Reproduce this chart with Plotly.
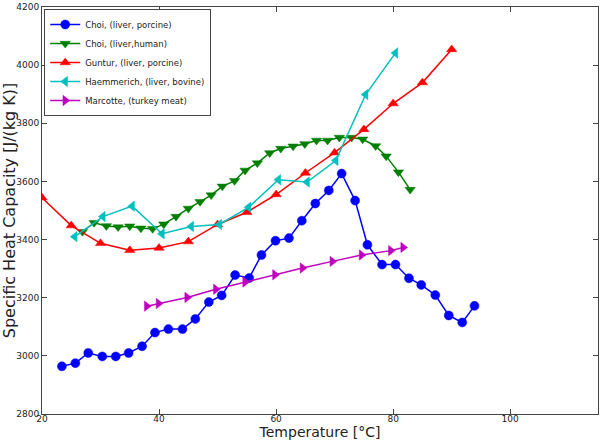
import plotly.graph_objects as go

# Choi (liver, porcine)
choi_p_t = [23.4, 25.7, 27.9, 30.3, 32.6, 34.8, 37.1, 39.3, 41.6, 44.0, 46.2, 48.5, 50.7, 53.0,
            55.4, 57.5, 59.9, 62.2, 64.4, 66.7, 69.0, 71.2, 73.5, 75.6, 78.1, 80.4, 82.7, 84.8,
            87.2, 89.5, 91.8, 93.9]
choi_p_c = [2964, 2975, 3010, 2998, 2998, 3010, 3033, 3080, 3092, 3092, 3127, 3185, 3208, 3278,
            3268, 3347, 3396, 3405, 3465, 3524, 3569, 3627, 3534, 3382, 3314, 3314, 3267, 3244,
            3209, 3139, 3115, 3172]

# Choi (liver, human)
choi_h_t = [26.9, 28.9, 31.0, 33.0, 35.0, 36.9, 38.9, 40.8, 42.9, 45.0, 47.0, 48.9, 50.8, 52.9,
            54.7, 56.8, 58.9, 60.8, 62.9, 64.9, 66.9, 68.8, 70.8, 72.9, 74.8, 77.0, 78.8, 80.9, 82.9]
choi_h_c = [3427, 3458, 3447, 3443, 3446, 3439, 3437, 3453, 3479, 3507, 3530, 3553, 3583, 3602,
            3638, 3663, 3698, 3713, 3721, 3729, 3741, 3741, 3751, 3751, 3745, 3722, 3687, 3632, 3572]

# Guntur (liver, porcine)
guntur_t = [20, 25, 30, 35, 40, 45, 50, 55, 60, 65, 70, 75, 80, 85, 90]
guntur_c = [3544, 3448, 3387, 3363, 3371, 3393, 3452, 3494, 3555, 3629, 3699, 3779, 3868, 3940, 4054]

# Haemmerich (liver, bovine)
haem_t = [25.6, 30.4, 35.4, 40.5, 45.5, 50.3, 55.3, 60.4, 65.3, 70.2, 75.3, 80.4]
haem_c = [3410, 3479, 3515, 3420, 3445, 3452, 3511, 3606, 3598, 3672, 3899, 4042]

# Marcotte (turkey meat)
marc_t = [37.9, 39.9, 44.8, 49.7, 54.7, 59.8, 64.5, 69.6, 74.6, 79.6, 81.7]
marc_c = [3171, 3180, 3201, 3229, 3254, 3279, 3302, 3325, 3347, 3362, 3373]

series = [
    ("Choi, (liver, porcine)", choi_p_t, choi_p_c, "#0000ff", "circle", 9),
    ("Choi, (liver,human)", choi_h_t, choi_h_c, "#007f00", "triangle-down", 9),
    ("Guntur, (liver, porcine)", guntur_t, guntur_c, "#ff0000", "triangle-up", 9),
    ("Haemmerich, (liver, bovine)", haem_t, haem_c, "#00bfbf", "triangle-left", 9),
    ("Marcotte, (turkey meat)", marc_t, marc_c, "#bf00bf", "triangle-right", 9),
]

fig = go.Figure()
for name, x, y, col, sym, size in series:
    fig.add_trace(go.Scatter(
        x=x, y=y, name=name, mode="lines+markers",
        line=dict(color=col, width=1.5),
        marker=dict(color=col, symbol=sym, size=size, line=dict(color=col, width=0.5)),
    ))

axis_common = dict(
    showline=True, linecolor="#444", linewidth=1, mirror="ticks",
    ticks="inside", ticklen=5, tickcolor="#444", showgrid=False, zeroline=False,
    tickfont=dict(family="DejaVu Sans", size=9, color="#222"),
)

fig.update_layout(
    width=600, height=440,
    paper_bgcolor="white", plot_bgcolor="white",
    margin=dict(l=42, r=2, t=7, b=26),
    font=dict(family="DejaVu Sans", color="#222"),
    xaxis=dict(range=[20, 115], tickvals=[20, 40, 60, 80, 100], ticklabelstandoff=-4,
               title=dict(text="Temperature [°C]", font=dict(size=14), standoff=5),
               automargin=False, **axis_common),
    yaxis=dict(range=[2800, 4200], tickvals=[2800, 3000, 3200, 3400, 3600, 3800, 4000, 4200],
               title=dict(text="Specific Heat Capacity [J/(kg K)]", font=dict(size=16), standoff=4),
               automargin=False, **axis_common),
    legend=dict(x=0.004, y=0.995, xanchor="left", yanchor="top",
                bgcolor="white", bordercolor="#444", borderwidth=1,
                font=dict(size=8.5, family="DejaVu Sans"), tracegroupgap=0,
                itemwidth=30),
    showlegend=True,
)

fig.write_html("out.html", config={"displayModeBar": False},
               post_script="document.body.style.margin='0px';")
